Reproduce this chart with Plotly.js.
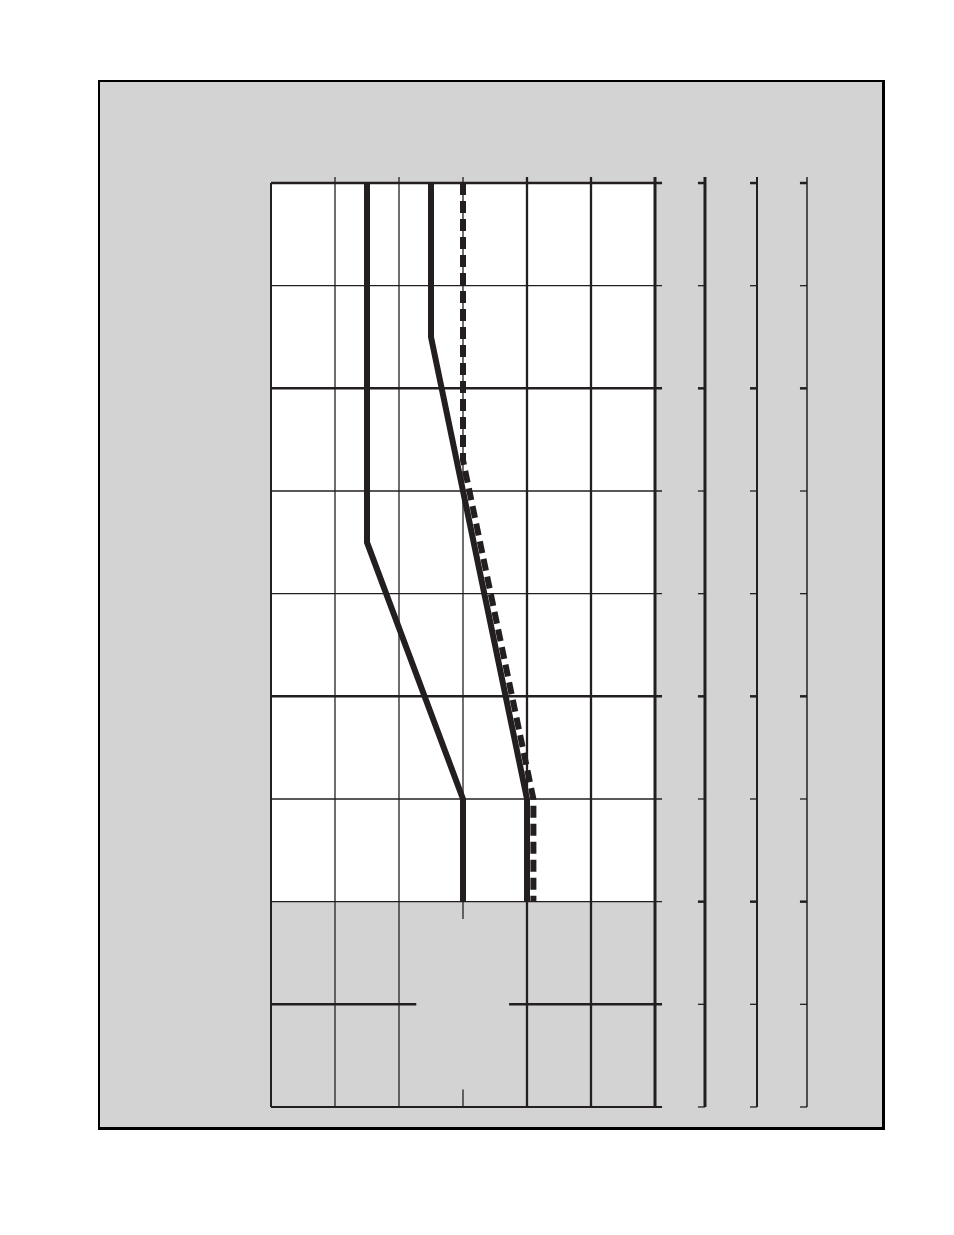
<!DOCTYPE html>
<html>
<head>
<meta charset="utf-8">
<script src="https://cdn.plot.ly/plotly-3.0.1.min.js"></script>
<style>
  html, body { margin: 0; padding: 0; background: #fff; }
  #chart { width: 954px; height: 1235px; }
</style>
</head>
<body>
<div id="chart"></div>
<script>
// grid divisions (columns across, rows down)
var colTicks = [0, 1, 2, 3, 4, 5, 6]
var rowTicks = [0, 1, 2, 3, 4, 5, 6, 7, 8, 9]

// the three plotted profiles
var line1X = [1.5, 1.5, 3.0, 3.0]
var line1Y = [0, 3.5, 6, 7]
var line2X = [2.5, 2.5, 4.0, 4.0]
var line2Y = [0, 1.5, 6, 7]
var dashX = [3.0, 3.0, 4.1, 4.1]
var dashY = [0, 2.7, 6, 7]

var ink = '#231f20'
var grey = '#d3d3d3'

// styling of the grid (widths in px)
var colWidths = [2, 1.3, 1.3, 1.3, 2.3, 2.3, 3]
var rowWidths = [2.5, 1.3, 2.5, 1.3, 1.3, 2.5, 1.3, 1.3, 2.5, 1.8]
var sideAxes = [6.781, 7.594, 8.375]      // extra scales right of the grid
var sideWidths = [3, 2, 1.5]
var sideThick = [0, 2, 5, 7]              // rows with heavy side ticks
var topOver = -0.058                       // lines poke out above the grid
var tickLen = 0.11
var whiteEnd = 7                           // white field ends on this row

function seg(x0, y0, x1, y1, w) {
    return {
        type: 'line', xref: 'x', yref: 'y',
        x0: x0, y0: y0, x1: x1, y1: y1,
        line: { color: ink, width: w },
        layer: 'below'
    }
}

var shapes = []

// white field
shapes.push({
    type: 'rect', xref: 'x', yref: 'y',
    x0: colTicks[0], x1: colTicks[colTicks.length - 1],
    y0: rowTicks[0], y1: whiteEnd,
    fillcolor: '#ffffff', line: { width: 0 }, layer: 'below'
})

var xLast = colTicks[colTicks.length - 1]
var yLast = rowTicks[rowTicks.length - 1]

// horizontal grid lines, run past the right edge as ticks
rowTicks.forEach(function (r, i) {
    if (r == 8) {
        shapes.push(seg(colTicks[0], r, 2.27, r, rowWidths[i]))
        shapes.push(seg(3.72, r, xLast + tickLen, r, rowWidths[i]))
    } else {
        shapes.push(seg(colTicks[0], r, xLast + tickLen, r, rowWidths[i]))
    }
})

// vertical grid lines
colTicks.forEach(function (c, i) {
    var top = (i == 0) ? rowTicks[0] : topOver
    if (c == 3) {
        shapes.push(seg(c, top, c, whiteEnd + 0.17, colWidths[i]))
        shapes.push(seg(c, yLast - 0.17, c, yLast, colWidths[i]))
    } else {
        shapes.push(seg(c, top, c, yLast, colWidths[i]))
    }
})

// side scales with ticks pointing left
sideAxes.forEach(function (ax, i) {
    shapes.push(seg(ax, topOver, ax, yLast, sideWidths[i]))
    rowTicks.forEach(function (r) {
        var w = sideThick.indexOf(r) >= 0 ? 2.5 : 1.3
        shapes.push(seg(ax - tickLen, r, ax, r, w))
    })
})

var data = [
    {
        x: line1X, y: line1Y, mode: 'lines', type: 'scatter',
        line: { color: ink, width: 6 }, hoverinfo: 'skip'
    },
    {
        x: line2X, y: line2Y, mode: 'lines', type: 'scatter',
        line: { color: ink, width: 6 }, hoverinfo: 'skip'
    },
    {
        x: dashX, y: dashY, mode: 'lines', type: 'scatter',
        line: { color: ink, width: 6, dash: '12px,6px' }, hoverinfo: 'skip'
    }
]

var axisBase = {
    showgrid: false, zeroline: false, showticklabels: false, ticks: '',
    showline: true, mirror: true, linecolor: '#000', linewidth: 2.5,
    fixedrange: true
}

var layout = {
    width: 954, height: 1235,
    margin: { l: 100, r: 72, t: 82, b: 108, pad: 0 },
    paper_bgcolor: '#ffffff',
    plot_bgcolor: grey,
    showlegend: false,
    xaxis: Object.assign({}, axisBase, { range: [-2.672, 9.547] }),
    yaxis: Object.assign({}, axisBase, { range: [9.195, -0.984] }),
    shapes: shapes
}

Plotly.newPlot('chart', data, layout, { displayModeBar: false, staticPlot: true })
</script>
</body>
</html>
